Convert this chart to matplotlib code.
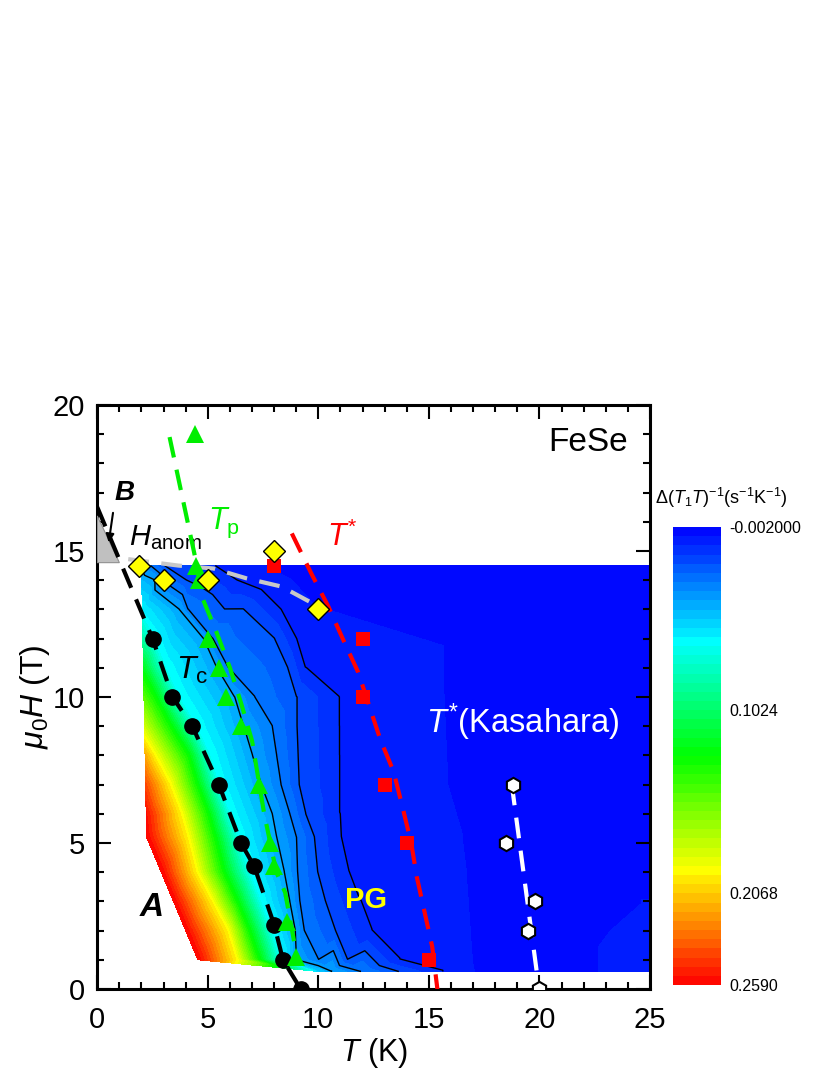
import numpy as np
import matplotlib
matplotlib.use('Agg')
import matplotlib.pyplot as plt
from matplotlib.colors import LinearSegmentedColormap
from matplotlib.tri import Triangulation
from matplotlib.ticker import MultipleLocator

plt.rcParams['font.family'] = ['Liberation Sans', 'DejaVu Sans']
plt.rcParams['mathtext.fontset'] = 'custom'
plt.rcParams['mathtext.rm'] = 'Liberation Sans'
plt.rcParams['mathtext.it'] = 'Liberation Sans:italic'
plt.rcParams['mathtext.bf'] = 'Liberation Sans:bold'

nan = np.nan

# ---- contour map: Delta(T1T)^-1, read per field ----
map_H = [14.5, 14, 13, 12, 11, 10, 9, 8, 7, 6, 5.2, 4, 3, 2, 1, 0.6]
# lowest temperature of each field scan and the value there
edge_T = [2.0, 2.01, 2.04, 2.06, 2.09, 2.11, 2.14, 2.16, 2.19, 2.21, 2.23, 2.9, 3.45, 4.0, 4.55, 10.0]
edge_v = [0.038, 0.045, 0.06, 0.085, 0.12, 0.15, 0.18, 0.215, 0.24, 0.255, 0.259, 0.259, 0.259, 0.259, 0.259, 0.05]
# temperature where the value crosses each of these levels (nan = no crossing)
cross_v = [0.195, 0.13, 0.065, 0.0400, 0.0295, 0.0191, 0.0086, 0.0035]
cross_T = [
    [nan, nan, nan, nan, 2.4, 3.0, 5.3, 6.5],
    [nan, nan, nan, 2.6, 2.9, 4.0, 6.3, 7.8],
    [nan, nan, nan, 3.7, 4.1, 6.6, 8.3, 9.0],
    [nan, nan, 2.6, 4.8, 5.2, 8.0, 9.0, 9.7],
    [nan, nan, 3.1, 5.4, 5.9, 8.6, 9.4, 11.8],
    [nan, 2.6, 3.7, 6.2, 7.1, 9.0, 10.9, 12.6],
    [nan, 3.3, 4.5, 6.6, 7.9, 9.0, 10.9, 12.8],
    [2.6, 4.1, 5.1, 7.0, 8.1, 9.05, 10.9, 13.0],
    [3.3, 4.5, 5.5, 7.4, 8.3, 9.1, 10.9, 15.5],
    [3.8, 5.0, 6.0, 7.9, 8.7, 9.4, 10.9, 14.0],
    [4.1, 5.3, 6.4, 8.1, 9.0, 9.8, 10.95, 16.2],
    [4.5, 5.7, 6.9, 8.45, 9.05, 9.95, 11.3, 16.4],
    [5.2, 6.3, 7.4, 8.7, 9.15, 10.3, 11.8, 16.5],
    [5.9, 6.85, 7.9, 8.95, 9.35, 10.75, 12.3, 16.6],
    [6.3, 7.3, 8.3, 9.0, 10.0, 11.3, 13.6, 16.7],
    [nan, nan, nan, 10.6, 11.9, 13.6, 15.6, 16.8],
]
v_at_20K = [0, 0, 0, 0, 0, 0, 0, 0, 0, 0, 0, 0, 0, 0, 0, 0]
v_at_25K = [0, 0, 0, 0, 0, 0, 0, 0, 0, 0, 0, 0, 0.0035, 0.005, 0.006, 0.006]
patch_T = [14.6]
patch_H = [11.1]
patch_v = [0.0040]

# ---- symbols ----
tc_T = [2.5, 3.4, 4.3, 5.5, 6.5, 7.1, 8.0, 8.4, 9.2]
tc_H = [12, 10, 9, 7, 5, 4.2, 2.2, 1.0, 0.0]
tp_T = [4.4, 4.45, 4.6, 5.0, 5.5, 5.8, 6.5, 7.3, 7.8, 8.0, 8.6, 9.0]
tp_H = [19, 14.5, 14.0, 12, 11, 10, 9, 7, 5, 4.2, 2.3, 1.1]
hanom_T = [1.9, 3.0, 5.0, 8.0, 10.0]
hanom_H = [14.5, 14.0, 14.0, 15.0, 13.0]
tstar_T = [8.0, 12.0, 12.0, 13.0, 14.0, 15.0]
tstar_H = [14.5, 12.0, 10.0, 7.0, 5.0, 1.0]
kas_T = [18.8, 18.5, 19.8, 19.5, 20.0]
kas_H = [7.0, 5.0, 3.0, 2.0, 0.0]

# ---- guide lines ----
tc_guide_T = [0.0, 2.5, 3.4, 4.3, 5.5, 6.5, 7.1, 8.0, 8.4, 9.2]
tc_guide_H = [16.5, 12, 10, 9, 7, 5, 4.2, 2.2, 1.0, 0.0]
tp_guide_T = [3.27, 4.45, 4.75, 5.4, 6.0, 6.5, 7.0, 7.55, 8.1, 8.5, 9.1]
tp_guide_H = [18.9, 14.7, 13.4, 12.2, 11.0, 9.8, 8.5, 6.0, 4.0, 3.3, 0.8]
hanom_guide_T = [1.4, 3.66, 5.25, 6.76, 8.34, 10.0]
hanom_guide_H = [14.72, 14.5, 14.4, 14.06, 13.78, 13.1]
tstar_guide_T = [8.8, 9.7, 10.45, 11.1, 11.8, 12.8, 13.4, 13.8, 14.2, 14.45, 14.8, 15.15, 15.4]
tstar_guide_H = [15.6, 14.2, 13.1, 12.0, 10.85, 8.55, 7.45, 6.25, 5.0, 3.85, 2.65, 1.45, -0.1]
kas_guide_T = [18.75, 20.0]
kas_guide_H = [7.0, -0.1]

regionB_T = [0.0, 1.0, 0.0]
regionB_H = [14.6, 14.6, 16.2]

cbar_ticks = [-0.002, 0.1024, 0.2068, 0.259]
cbar_labels = ['-0.002000', '0.1024', '0.2068', '0.2590']

# build scattered points of the map
pts_T, pts_H, pts_v = [], [], []
for i, h in enumerate(map_H):
    pts_T.append(edge_T[i]); pts_H.append(h); pts_v.append(edge_v[i])
    for j, t in enumerate(cross_T[i]):
        if not np.isnan(t):
            pts_T.append(t); pts_H.append(h); pts_v.append(cross_v[j])
    pts_T += [20.0, 25.0]; pts_H += [h, h]; pts_v += [v_at_20K[i], v_at_25K[i]]
pts_T += patch_T; pts_H += patch_H; pts_v += patch_v
tri = Triangulation(pts_T, pts_H)

cmap = LinearSegmentedColormap.from_list(
    'origin_rainbow', [(0.0, '#0000ff'), (0.25, '#00ffff'), (0.5, '#00ff00'),
                       (0.75, '#ffff00'), (1.0, '#ff0000')])
fill_levels = np.linspace(-0.002, 0.2592, 51)
line_levels = fill_levels[[2, 4, 6, 8]]

fig = plt.figure(figsize=(8.3, 10.75), dpi=100)
ax = fig.add_axes([0.1172, 0.0800, 0.6659, 0.5433])

cf = ax.tricontourf(tri, pts_v, levels=fill_levels, cmap=cmap, zorder=1)
ax.tricontour(tri, pts_v, levels=line_levels, colors='black', linewidths=1.0, zorder=2)

ax.fill(regionB_T, regionB_H, facecolor='#c0c0c0', edgecolor='#909090', lw=0.8, zorder=3)

dash = (0, (5, 3))
ax.plot(hanom_guide_T, hanom_guide_H, color='#c8c8c8', lw=3, ls=dash, zorder=4)
ax.plot(tc_guide_T, tc_guide_H, color='black', lw=3, ls=dash, zorder=4)
ax.plot(tp_guide_T, tp_guide_H, color='#00ee00', lw=3, ls=dash, zorder=4)
ax.plot(tstar_guide_T, tstar_guide_H, color='#ff0000', lw=3, ls=dash, zorder=4)
ax.plot(kas_guide_T, kas_guide_H, color='white', lw=3, ls=dash, zorder=4)

ax.plot(tc_T, tc_H, 'o', color='black', ms=11, zorder=5)
ax.plot(tp_T, tp_H, '^', color='#00ee00', ms=13, mew=0, zorder=5)
ax.plot(tstar_T, tstar_H, 's', color='#ff0000', ms=10, mew=0, zorder=5)
ax.plot(hanom_T, hanom_H, 'D', mfc='#ffff00', mec='black', mew=1, ms=11, zorder=6)
ax.plot(kas_T, kas_H, 'h', mfc='white', mec='black', mew=1.5, ms=11, zorder=6)

ax.text(24.0, 18.7, 'FeSe', fontsize=24, ha='right', va='center')
ax.text(1.25, 17.0, 'B', fontsize=20, fontweight='bold', fontstyle='italic', ha='center', va='center')
ax.annotate('', xy=(0.5, 15.2), xytext=(0.73, 16.4),
            arrowprops=dict(arrowstyle='-|>', color='black', lw=1.5, mutation_scale=12))
ax.text(1.45, 15.2, r'$H_{\rm anom}$', fontsize=21, ha='left', va='baseline')
ax.text(5.0, 15.95, r'$T_{\rm p}$', fontsize=22, color='#00ee00', ha='left', va='center')
ax.text(10.4, 15.45, r'$T^{*}$', fontsize=22, color='#ff0000', ha='left', va='center')
ax.text(3.55, 10.9, r'$T_{\rm c}$', fontsize=23, ha='left', va='center')
ax.text(14.85, 9.15, r'$T^{*}$(Kasahara)', fontsize=23.5, color='white', ha='left', va='center')
ax.text(12.15, 3.05, 'PG', fontsize=21, fontweight='bold', color='#ffff00', ha='center', va='center')
ax.text(2.45, 2.8, 'A', fontsize=24, fontweight='bold', fontstyle='italic', ha='center', va='center')

ax.set_xlim(0, 25)
ax.set_ylim(0, 20)
ax.xaxis.set_major_locator(MultipleLocator(5))
ax.xaxis.set_minor_locator(MultipleLocator(1))
ax.yaxis.set_major_locator(MultipleLocator(5))
ax.yaxis.set_minor_locator(MultipleLocator(1))
ax.tick_params(which='both', direction='in', top=True, right=True, width=1.5, labelsize=21)
ax.tick_params(which='major', length=10)
ax.tick_params(which='minor', length=5)
ax.tick_params(axis='x', pad=12)
ax.tick_params(axis='y', pad=9)
for s in ax.spines.values():
    s.set_linewidth(2.2)
ax.set_xlabel(r'$T$ (K)', fontsize=22, labelpad=2)
ax.set_ylabel(r'$\mu_0H$ (T)', fontsize=23, labelpad=0)

cax = fig.add_axes([0.8108, 0.0837, 0.0578, 0.426])
cb = fig.colorbar(cf, cax=cax, ticks=cbar_ticks)
cax.invert_yaxis()
cb.outline.set_visible(False)
cb.set_ticklabels(cbar_labels)
cax.tick_params(length=0, labelsize=11.5, pad=6)
fig.text(0.8693, 0.5367, r'$\Delta(T_1T)^{-1}$(s$^{-1}$K$^{-1}$)', fontsize=13,
         ha='center', va='center')

fig.savefig('out.png', dpi=100)
